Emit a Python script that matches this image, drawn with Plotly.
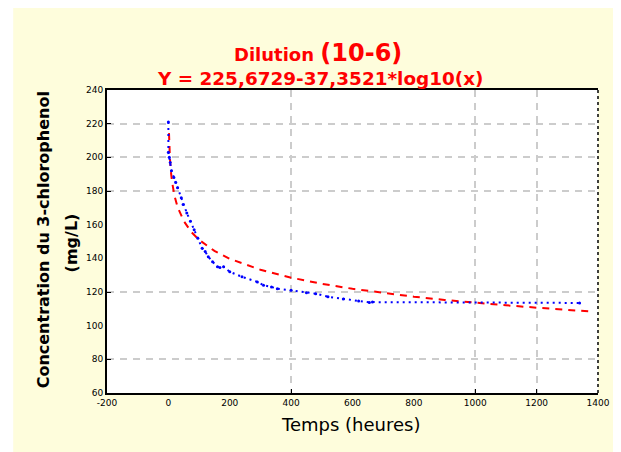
import plotly.graph_objects as go

# observed concentrations (blue)
temps_obs = [0, 0, 3, 6, 10, 18, 24, 30, 42, 48, 60, 72, 84, 96, 110, 120, 130, 144, 160, 168, 180,
             200, 240, 290, 310, 336, 355, 400, 450, 480, 520, 570, 620, 655, 665, 1340]
conc_obs = [221, 203, 200, 197, 192, 188, 185, 182, 176, 172, 167, 162, 157, 152, 146, 144, 141, 138, 135, 134.5, 135,
            132, 129, 126, 124, 123, 122, 121, 119.5, 119, 117.2, 115.8, 114.7, 113.8, 114, 113.5]

# fitted curve Y = 225,6729 - 37,3521*log10(x) (red)
temps_fit = [2, 3, 5, 8, 12, 20, 30, 50, 75, 100, 150, 200, 300, 400, 500, 600, 700,
             800, 900, 1000, 1100, 1200, 1300, 1370]
conc_fit = [214.4, 207.9, 199.6, 191.9, 185.4, 177.1, 170.5, 162.2, 155.6, 151.0, 144.4, 139.7, 133.2, 128.5,
            124.9, 121.9, 119.4, 117.2, 115.3, 113.6, 112.1, 110.7, 109.4, 108.5]

x_ticks = [-200, 0, 200, 400, 600, 800, 1000, 1200, 1400]
x_labels = ["-200", "0", "200", "400", "600", "800", "1000", "1200", "1400"]
y_ticks = [60, 80, 100, 120, 140, 160, 180, 200, 220, 240]
y_labels = ["60", "80", "100", "120", "140", "160", "180", "200", "220", "240"]
x_grid = [400, 1000, 1200]
y_grid = [80, 120, 180, 200, 220]

fig = go.Figure()
fig.add_trace(go.Scatter(x=temps_fit, y=conc_fit, mode="lines",
                         line=dict(color="#FF0000", width=2, dash="7px,6px")))
fig.add_trace(go.Scatter(x=temps_obs, y=conc_obs, mode="lines+markers",
                         line=dict(color="#0000FF", width=2, dash="2px,4px"),
                         marker=dict(size=3, color="#0000FF")))

axis_font = dict(family="DejaVu Sans", size=9, color="black")
grid = dict(showgrid=True, gridcolor="#CCCCCC", gridwidth=1.5, griddash="7px,6px",
            ticks="inside", ticklen=4, tickcolor="black")

fig.update_xaxes(range=[-200, 1400], tickmode="array", tickvals=x_ticks, ticktext=x_labels,
                 tickfont=axis_font, showgrid=False, zeroline=False, ticks="",
                 showline=True, linecolor="black", linewidth=2, mirror=True,
                 minor=dict(tickmode="array", tickvals=x_grid, **grid))
fig.update_yaxes(range=[60, 240], tickmode="array", tickvals=y_ticks, ticktext=y_labels,
                 tickfont=axis_font, showgrid=False, zeroline=False, ticks="",
                 showline=True, linecolor="black", linewidth=2,
                 minor=dict(tickmode="array", tickvals=y_grid, **grid))

red = "#FF0000"
fig.add_annotation(x=0.43, y=1.175, xref="paper", yref="paper", showarrow=False,
                   text="Dilution <span style='font-size:24px'>(10-6)</span>",
                   font=dict(family="DejaVu Sans", size=18, color=red, weight="bold"))
fig.add_annotation(x=0.434, y=1.079, xref="paper", yref="paper", showarrow=False,
                   text="Y = 225,6729-37,3521*log10(x)",
                   font=dict(family="DejaVu Sans", size=18.4, color=red, weight="bold"))
fig.add_annotation(x=-0.151, y=0.505, xref="paper", yref="paper", showarrow=False, textangle=-90,
                   text="Concentration du 3-chlorophenol",
                   font=dict(family="DejaVu Sans", size=16, color="black", weight="bold"))
fig.add_annotation(x=-0.096, y=0.495, xref="paper", yref="paper", showarrow=False, textangle=-90,
                   text="(mg/L)",
                   font=dict(family="DejaVu Sans", size=16, color="black", weight="bold"))
fig.add_annotation(x=0.495, y=-0.145, xref="paper", yref="paper", showarrow=False,
                   text="Temps (heures)",
                   font=dict(family="DejaVu Sans", size=18, color="black"))

# white strip left of the yellow panel, dotted right border
fig.add_shape(type="rect", xref="paper", yref="paper", x0=-0.25, x1=-0.191, y0=-0.3, y1=1.4,
              fillcolor="white", line_width=0, layer="below")
fig.add_shape(type="line", xref="paper", yref="paper", x0=1, x1=1, y0=0, y1=1,
              line=dict(color="black", width=1.5, dash="dot"))

fig.update_layout(width=621, height=444, showlegend=False,
                  margin=dict(l=99, r=31, t=82, b=59),
                  paper_bgcolor="#FEFDDC", plot_bgcolor="white")

fig.write_html("out.html")
